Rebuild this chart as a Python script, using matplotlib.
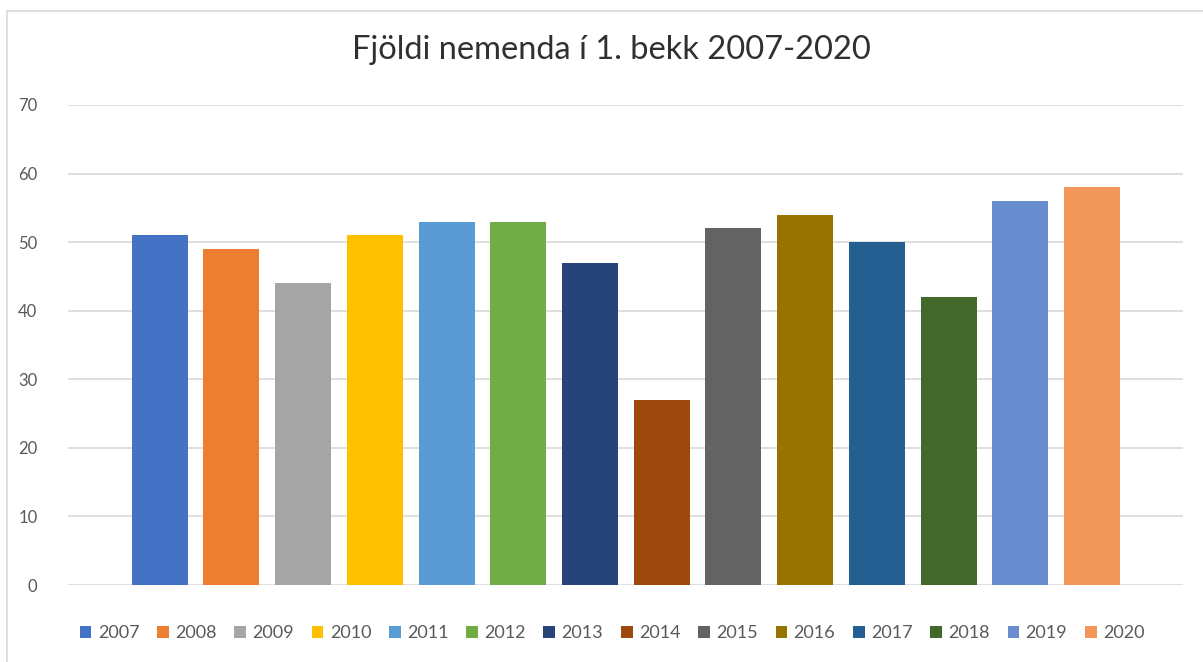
import matplotlib.pyplot as plt
from matplotlib.patches import Rectangle

# Gögn
ar = ['2007', '2008', '2009', '2010', '2011', '2012', '2013',
      '2014', '2015', '2016', '2017', '2018', '2019', '2020']
fjoldi = [51, 49, 44, 51, 53, 53, 47, 27, 52, 54, 50, 42, 56, 58]
litir = ['#4472C4', '#ED7D31', '#A5A5A5', '#FFC000', '#5B9BD5', '#70AD47', '#264478',
         '#9E480E', '#636363', '#997300', '#255E91', '#43682B', '#698ED0', '#F1975A']
y_ticks = [0, 10, 20, 30, 40, 50, 60, 70]

plt.rcParams['font.family'] = ['Lato', 'DejaVu Sans']

fig = plt.figure(figsize=(12.03, 6.62), dpi=100)
ax = fig.add_axes([0.0565, 0.1163, 0.9269, 0.7251])

# ramminn utan um myndina
fig.patches.append(Rectangle((7 / 1203, -0.05), 1.1, 1 - 11 / 662 + 0.05,
                             transform=fig.transFigure, fill=False,
                             edgecolor='#d9d9d9', linewidth=1.2))

for i in range(len(ar)):
    ax.bar(i, fjoldi[i], width=0.78, color=litir[i], label=ar[i], zorder=3)

ax.set_xlim(-1.28, 14.27)
ax.set_ylim(0, 70)
ax.set_yticks(y_ticks)
ax.set_xticks([])
ax.yaxis.grid(True, color='#d9d9d9', linewidth=1.2, zorder=0)
for s in ax.spines.values():
    s.set_visible(False)
ax.tick_params(axis='y', length=0, pad=22, labelsize=12, labelcolor='#595959')

fig.text(0.508, 0.924, 'Fjöldi nemenda í 1. bekk 2007-2020', ha='center', va='center',
         fontsize=23.5, color='#303030')

ax.legend(loc='center', bbox_to_anchor=(0.488, -0.1), ncol=14, frameon=False,
          fontsize=13, handlelength=0.65, handleheight=0.65, handletextpad=0.35,
          columnspacing=0.98, labelcolor='#595959')

fig.savefig('out.png', dpi=100)
